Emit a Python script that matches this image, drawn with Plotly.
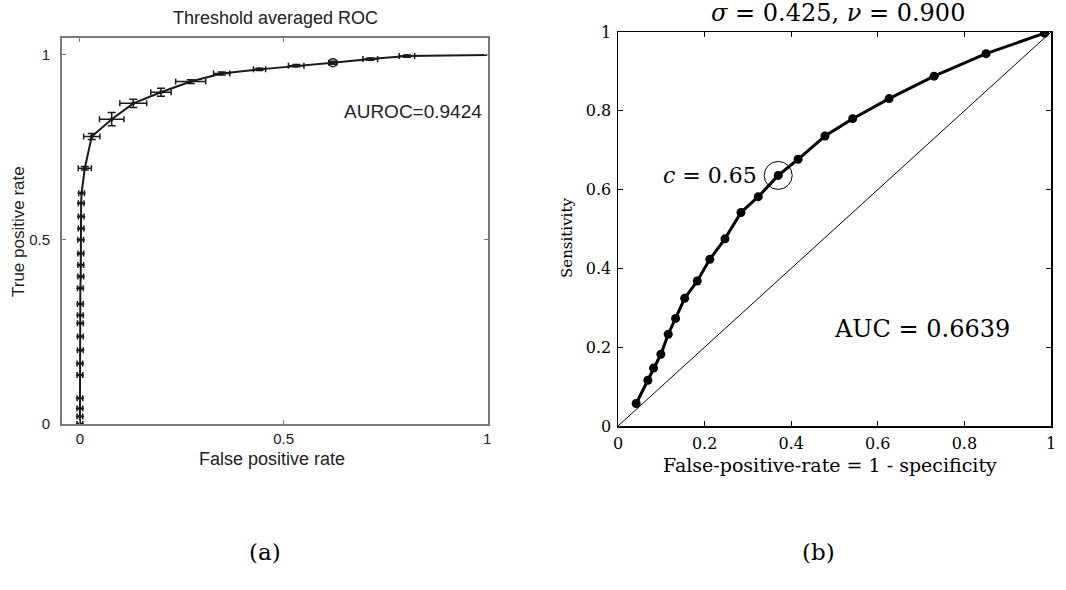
import plotly.graph_objects as go

# ---------------- data: panel (a) threshold averaged ROC ----------------
roc_a_fpr = [0.000, 0.000, 0.000, 0.000, 0.000, 0.000, 0.001, 0.001, 0.001, 0.001,
             0.001, 0.001, 0.002, 0.002, 0.002, 0.002, 0.003, 0.003, 0.003, 0.004,
             0.012, 0.029, 0.078, 0.131, 0.199, 0.272, 0.348, 0.441, 0.531, 0.621,
             0.713, 0.803, 1.000]
roc_a_tpr = [0.000, 0.020, 0.042, 0.070, 0.133, 0.164, 0.200, 0.237, 0.273, 0.295,
             0.325, 0.368, 0.400, 0.431, 0.462, 0.499, 0.530, 0.562, 0.598, 0.625,
             0.693, 0.779, 0.826, 0.869, 0.899, 0.928, 0.950, 0.961, 0.971, 0.979,
             0.989, 0.997, 1.000]
roc_a_fpr_err = [0.007] * 20 + [0.016, 0.020, 0.030, 0.033, 0.025, 0.037, 0.020, 0.015,
                                0.019, 0.010, 0.018, 0.019, 0.0]
roc_a_tpr_err = [0.0] * 20 + [0.005, 0.008, 0.018, 0.011, 0.011, 0.005, 0.004, 0.003,
                              0.003, 0.004, 0.003, 0.003, 0.0]
roc_a_circled = 29
auroc_text = "AUROC=0.9424"
ticks_a = [0, 0.5, 1]
ticklabels_a = ["0", "0.5", "1"]

# ---------------- data: panel (b) ----------------
fpr_b = [0.042, 0.069, 0.082, 0.099, 0.116, 0.133, 0.154, 0.183, 0.212, 0.247,
         0.284, 0.324, 0.370, 0.416, 0.478, 0.542, 0.626, 0.730, 0.850, 0.985]
sens_b = [0.057, 0.116, 0.147, 0.182, 0.233, 0.273, 0.324, 0.368, 0.423, 0.475,
          0.542, 0.582, 0.636, 0.677, 0.736, 0.780, 0.831, 0.888, 0.945, 0.997]
highlight_b = 12
diag_b = [0, 1]
ticks_b = [0, 0.2, 0.4, 0.6, 0.8, 1]
ticklabels_b = ["0", "0.2", "0.4", "0.6", "0.8", "1"]

W, H = 1066, 590
def px(x):
    return x / W
def py(y):
    return (H - y) / H

SANS = "Liberation Sans, Arial, sans-serif"
SERIF = "DejaVu Serif, serif"
ACOL = "#222222"

fig = go.Figure()

# panel (a)
fig.add_trace(go.Scatter(x=roc_a_fpr, y=roc_a_tpr, mode="lines",
                         line=dict(color="#1a1a1a", width=2),
                         xaxis="x", yaxis="y", showlegend=False, hoverinfo="skip"))
fig.add_trace(go.Scatter(x=roc_a_fpr[:-1], y=roc_a_tpr[:-1], mode="markers",
                         marker=dict(color="#1a1a1a", size=4),
                         error_x=dict(type="data", array=roc_a_fpr_err[:-1], color="#1a1a1a",
                                      thickness=1.5, width=3),
                         error_y=dict(type="data", array=roc_a_tpr_err[:-1], color="#1a1a1a",
                                      thickness=1.5, width=4),
                         xaxis="x", yaxis="y", showlegend=False))
fig.add_trace(go.Scatter(x=[roc_a_fpr[roc_a_circled]], y=[roc_a_tpr[roc_a_circled]],
                         mode="markers",
                         marker=dict(symbol="circle-open", color="#1a1a1a", size=8,
                                     line=dict(width=1.5)),
                         xaxis="x", yaxis="y", showlegend=False))

# panel (b)
fig.add_trace(go.Scatter(x=diag_b, y=diag_b, mode="lines",
                         line=dict(color="black", width=1),
                         xaxis="x2", yaxis="y2", showlegend=False, hoverinfo="skip"))
fig.add_trace(go.Scatter(x=fpr_b, y=sens_b, mode="lines+markers",
                         line=dict(color="black", width=3),
                         marker=dict(color="black", size=9),
                         xaxis="x2", yaxis="y2", showlegend=False))
fig.add_trace(go.Scatter(x=[fpr_b[highlight_b]], y=[sens_b[highlight_b]], mode="markers",
                         marker=dict(symbol="circle-open", color="black", size=28,
                                     line=dict(width=1)),
                         xaxis="x2", yaxis="y2", showlegend=False))

axis_a = dict(showgrid=False, zeroline=False, showline=True, linecolor="#7a7a7a",
              linewidth=2, mirror="ticks", ticks="inside", ticklen=4, tickcolor="#7a7a7a",
              automargin=False,
              tickfont=dict(family=SANS, size=15, color=ACOL))
axis_b = dict(showgrid=False, zeroline=False, showline=True, linecolor="black",
              linewidth=1.5, mirror="ticks", ticks="inside", ticklen=5, tickcolor="black",
              automargin=False,
              tickfont=dict(family=SERIF, size=16, color="black"))

fig.update_layout(
    template="none",
    width=W, height=H, margin=dict(l=0, r=0, t=0, b=0, autoexpand=False),
    paper_bgcolor="white", plot_bgcolor="white",
    xaxis=dict(axis_a, domain=[px(62), px(488)], range=[-0.044, 1.002],
               tickvals=ticks_a, ticktext=ticklabels_a, anchor="y", ticklabelstandoff=0),
    yaxis=dict(axis_a, domain=[py(424), py(38)], range=[0, 1.046],
               tickvals=ticks_a, ticktext=ticklabels_a, anchor="x", ticklabelstandoff=7),
    xaxis2=dict(axis_b, domain=[px(618), px(1051)], range=[0, 1],
                tickvals=ticks_b, ticktext=ticklabels_b, anchor="y2", ticklabelstandoff=2),
    yaxis2=dict(axis_b, domain=[py(426), py(32)], range=[0, 1],
                tickvals=ticks_b, ticktext=ticklabels_b, anchor="x2", ticklabelstandoff=2),
)

def note(text, x, y, font, xref="paper", yref="paper", angle=0, xanchor="center"):
    return dict(text=text, x=x, y=y, xref=xref, yref=yref, showarrow=False,
                xanchor=xanchor, yanchor="middle", textangle=angle, font=font)

ann = [
    # panel (a)
    note("Threshold averaged ROC", px(275), py(18), dict(family=SANS, size=18, color=ACOL)),
    note("False positive rate", px(272), py(459), dict(family=SANS, size=18, color=ACOL)),
    note("True positive rate", px(18), py(232), dict(family=SANS, size=17, color=ACOL), angle=-90),
    note(auroc_text, px(413), py(111), dict(family=SANS, size=19, color=ACOL)),
    note("(a)", px(265), py(552), dict(family=SERIF, size=23, color="black")),
    # panel (b)
    note("<i>σ</i> = 0.425, <i>ν</i> = 0.900", px(838), py(13),
         dict(family=SERIF, size=24, color="black")),
    note("False-positive-rate = 1 - specificity", px(830), py(465),
         dict(family=SERIF, size=19, color="black")),
    note("Sensitivity", px(567), py(238), dict(family=SERIF, size=15, color="black"), angle=-90),
    note("<i>c</i> = 0.65", 0.325, sens_b[highlight_b], dict(family=SERIF, size=22, color="black"),
         xref="x2", yref="y2", xanchor="right"),
    note("AUC = 0.6639", 0.703, 0.247, dict(family=SERIF, size=24, color="black"),
         xref="x2", yref="y2"),
    note("(b)", px(818), py(552), dict(family=SERIF, size=23, color="black")),
]
fig.update_layout(annotations=ann)

fig.write_html("out.html", config={"displayModeBar": False, "staticPlot": True},
               post_script="document.body.style.margin='0';document.body.style.overflow='hidden';")
